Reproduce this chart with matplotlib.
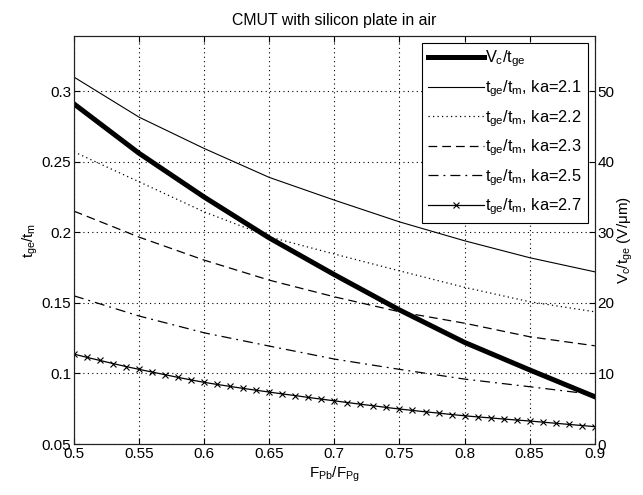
import numpy as np
import matplotlib
matplotlib.use("Agg")
import matplotlib.pyplot as plt

plt.rcParams["font.family"] = ["Liberation Sans", "DejaVu Sans"]
plt.rcParams["mathtext.fontset"] = "custom"
plt.rcParams["mathtext.rm"] = "Liberation Sans"
plt.rcParams["mathtext.it"] = "Liberation Sans"

# ---------------------------------------------------------------------------
# data
# ---------------------------------------------------------------------------
fr = [0.50, 0.55, 0.60, 0.65, 0.70, 0.75, 0.80, 0.85, 0.90]

vc_tge = [48.2, 41.2, 35.0, 29.2, 24.0, 19.0, 14.4, 10.5, 6.7]      # right axis, V/um

t_ka21 = [0.310, 0.2816, 0.2594, 0.2389, 0.2228, 0.2074, 0.1940, 0.1820, 0.1720]
t_ka22 = [0.257, 0.2358, 0.2145, 0.1968, 0.1846, 0.1727, 0.1610, 0.1508, 0.1437]
t_ka23 = [0.215, 0.1966, 0.1803, 0.1661, 0.1543, 0.1437, 0.1356, 0.1260, 0.1196]
t_ka25 = [0.155, 0.1407, 0.1288, 0.1194, 0.1102, 0.1029, 0.0960, 0.0906, 0.0850]

fr_fine = [0.50, 0.51, 0.52, 0.53, 0.54, 0.55, 0.56, 0.57, 0.58, 0.59,
           0.60, 0.61, 0.62, 0.63, 0.64, 0.65, 0.66, 0.67, 0.68, 0.69,
           0.70, 0.71, 0.72, 0.73, 0.74, 0.75, 0.76, 0.77, 0.78, 0.79,
           0.80, 0.81, 0.82, 0.83, 0.84, 0.85, 0.86, 0.87, 0.88, 0.89, 0.90]
t_ka27 = [0.1137, 0.1114, 0.1092, 0.1070, 0.1049, 0.1029, 0.1010, 0.0991, 0.0972, 0.0954,
          0.0937, 0.0922, 0.0908, 0.0894, 0.0881, 0.0868, 0.0855, 0.0843, 0.0830, 0.0818,
          0.0806, 0.0794, 0.0782, 0.0771, 0.0759, 0.0748, 0.0738, 0.0728, 0.0719, 0.0709,
          0.0700, 0.0692, 0.0685, 0.0677, 0.0670, 0.0663, 0.0655, 0.0647, 0.0639, 0.0631,
          0.0623]

xticks = [0.5, 0.55, 0.6, 0.65, 0.7, 0.75, 0.8, 0.85, 0.9]
xticklabels = ["0.5", "0.55", "0.6", "0.65", "0.7", "0.75", "0.8", "0.85", "0.9"]
yticks_l = [0.05, 0.1, 0.15, 0.2, 0.25, 0.3]
yticklabels_l = ["0.05", "0.1", "0.15", "0.2", "0.25", "0.3"]
yticks_r = [0, 10, 20, 30, 40, 50]

# ---------------------------------------------------------------------------
# plot
# ---------------------------------------------------------------------------
fig = plt.figure(figsize=(6.43, 4.95), dpi=100)
ax = fig.add_axes([0.115, 0.103, 0.81, 0.824])
ax2 = ax.twinx()

k = "black"
fs = 11
h1, = ax2.plot(fr, vc_tge, color=k, lw=3.6, label=r"$V_c/t_{ge}$")
h2, = ax.plot(fr, t_ka21, color=k, lw=0.8, label=r"$t_{ge}/t_m$, ka=2.1")
h3, = ax.plot(fr, t_ka22, color=k, lw=0.9, ls=(0, (1, 2.6)), label=r"$t_{ge}/t_m$, ka=2.2")
h4, = ax.plot(fr, t_ka23, color=k, lw=0.9, ls=(0, (7, 4)), label=r"$t_{ge}/t_m$, ka=2.3")
h5, = ax.plot(fr, t_ka25, color=k, lw=0.9, ls=(0, (8, 4, 1.5, 4)), label=r"$t_{ge}/t_m$, ka=2.5")
h6, = ax.plot(fr_fine, t_ka27, color=k, lw=0.9, marker="x", ms=4, mew=0.8,
              label=r"$t_{ge}/t_m$, ka=2.7")

ax.set_xlim(0.5, 0.9)
ax.set_ylim(0.05, 0.339)
ax2.set_ylim(0, 57.8)

ax.set_xticks(xticks)
ax.set_xticklabels(xticklabels)
ax.set_yticks(yticks_l)
ax.set_yticklabels(yticklabels_l)
ax2.set_yticks(yticks_r)

ax.grid(True, color=k, ls=(0, (1, 3)), lw=0.8)
ax.tick_params(direction="in", top=True, right=False, labelsize=fs, length=4, pad=2)
ax2.tick_params(direction="in", labelsize=fs, length=4, pad=2)
for a in (ax, ax2):
    for s in a.spines.values():
        s.set_color("#222222")
        s.set_linewidth(0.8)

ax.set_xlabel(r"$F_{Pb}/F_{Pg}$", fontsize=fs, labelpad=3)
ax.set_ylabel(r"$t_{ge}/t_m$", fontsize=fs, labelpad=1)
ax2.set_ylabel(r"$V_c/t_{ge}$ (V/$\mu$m)", fontsize=fs, labelpad=1)
ax.set_title("CMUT with silicon plate in air", fontsize=11.4, pad=8)

leg = ax2.legend(handles=[h1, h2, h3, h4, h5, h6], loc="upper right",
                 bbox_to_anchor=(0.987, 0.983), borderaxespad=0, fontsize=11.8,
                 handlelength=3.4, handletextpad=0.1, labelspacing=0.55, borderpad=0.35,
                 fancybox=False, framealpha=1, edgecolor=k)
leg.get_frame().set_linewidth(0.8)

fig.savefig("out.png", dpi=100)
